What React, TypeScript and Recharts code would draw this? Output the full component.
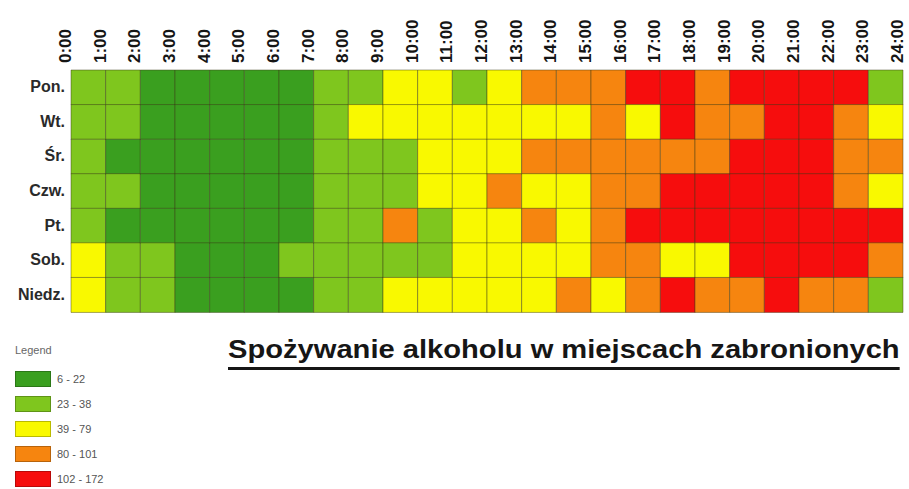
import { BarChart, Bar, Cell, XAxis, YAxis } from 'recharts'

const days = ['Pon.', 'Wt.', 'Śr.', 'Czw.', 'Pt.', 'Sob.', 'Niedz.']
const hourTicks = [0, 1, 2, 3, 4, 5, 6, 7, 8, 9, 10, 11, 12, 13, 14, 15, 16, 17, 18, 19, 20, 21, 22, 23, 24]

// estimated counts per hour (0:00 - 23:00)
const pon = [30, 28, 18, 14, 12, 11, 15, 26, 34, 52, 60, 36, 64, 85, 88, 92, 110, 118, 96, 125, 140, 132, 120, 35]
const wt = [32, 27, 19, 13, 11, 10, 16, 28, 45, 55, 62, 66, 70, 72, 75, 84, 78, 108, 95, 98, 130, 128, 90, 58]
const sr = [29, 22, 17, 12, 10, 11, 14, 27, 33, 37, 58, 63, 68, 82, 86, 90, 94, 96, 99, 115, 135, 126, 88, 84]
const czw = [31, 26, 18, 13, 11, 10, 15, 25, 32, 38, 56, 65, 83, 70, 74, 88, 93, 112, 120, 128, 138, 130, 92, 66]
const pt = [33, 21, 16, 12, 10, 9, 14, 29, 35, 81, 37, 60, 68, 86, 76, 92, 106, 122, 134, 142, 160, 172, 150, 118]
const sob = [45, 36, 30, 20, 15, 13, 24, 28, 31, 34, 37, 55, 62, 70, 75, 88, 94, 78, 76, 112, 140, 136, 118, 91]
const niedz = [48, 34, 27, 19, 14, 12, 17, 26, 36, 50, 58, 64, 70, 73, 85, 77, 90, 104, 94, 96, 108, 92, 86, 33]

const values = [pon, wt, sr, czw, pt, sob, niedz]

const classLabels = ['6 - 22', '23 - 38', '39 - 79', '80 - 101', '102 - 172']
const classMax = [22, 38, 79, 101, 172]
const classColors = ['#3a9f1f', '#7fc61e', '#f9f900', '#f6850f', '#f60d0d']

const hours = hourTicks.slice(0, 24)

function colorFor(v: number) {
  const i = classMax.findIndex((m) => v <= m)
  return classColors[i < 0 ? classColors.length - 1 : i]
}

// each cell is one hour wide, stacked along the row
const rows = days.map((day) => {
  const row: Record<string, string | number> = { day }
  hours.forEach((h) => {
    row[`h${h}`] = 1
  })
  return row
})

function HourTick(props: any) {
  const { x, y, payload } = props
  return (
    <text
      x={x}
      y={y}
      transform={`rotate(-90, ${x}, ${y})`}
      textAnchor="start"
      fontSize={17}
      fontWeight="bold"
      fill="#151515"
      fontFamily="'Liberation Sans', Arial, sans-serif"
    >
      {`${payload.value}:00`}
    </text>
  )
}

function DayTick(props: any) {
  const { y, payload } = props
  return (
    <text
      x={65}
      y={y}
      dy={5}
      textAnchor="end"
      fontSize={16}
      fontWeight="bold"
      fill="#2a2a2a"
      fontFamily="'Liberation Sans', Arial, sans-serif"
    >
      {payload.value}
    </text>
  )
}

export default function App() {
  return (
    <div
      style={{
        position: 'absolute',
        left: 0,
        top: 0,
        width: 909,
        height: 489,
        background: '#fff',
        fontFamily: "'Liberation Sans', Arial, sans-serif",
      }}
    >
      <BarChart
        width={909}
        height={489}
        data={rows}
        layout="vertical"
        barCategoryGap={0}
        margin={{ top: 0, right: 6, bottom: 177, left: 0 }}
      >
        <XAxis
          type="number"
          orientation="top"
          domain={[0, 24]}
          ticks={hourTicks}
          interval={0}
          height={70}
          axisLine={false}
          tickLine={false}
          tickSize={0}
          tickMargin={7}
          tick={<HourTick />}
        />
        <YAxis
          type="category"
          dataKey="day"
          width={71}
          axisLine={false}
          tickLine={false}
          tick={<DayTick />}
        />
        {hours.map((h) => (
          <Bar key={h} dataKey={`h${h}`} stackId="a" isAnimationActive={false}>
            {days.map((d, i) => (
              <Cell
                key={d}
                fill={colorFor(values[i][h])}
                stroke="rgba(60,60,25,0.45)"
                strokeWidth={1}
              />
            ))}
          </Bar>
        ))}
      </BarChart>

      <div
        style={{
          position: 'absolute',
          left: 228,
          top: 335,
          fontSize: 25,
          fontWeight: 'bold',
          color: '#161616',
          textDecoration: 'underline',
          textDecorationThickness: 3,
          textUnderlineOffset: 9,
          whiteSpace: 'nowrap',
          transform: 'scaleX(1.165)',
          transformOrigin: 'left top',
        }}
      >
        Spożywanie alkoholu w miejscach zabronionych
      </div>

      <div style={{ position: 'absolute', left: 15, top: 344, fontSize: 11, color: '#666' }}>Legend</div>
      {classLabels.map((label, i) => (
        <div
          key={label}
          style={{ position: 'absolute', left: 15, top: 371 + i * 25, display: 'flex', alignItems: 'center' }}
        >
          <div
            style={{
              width: 36,
              height: 16,
              background: classColors[i],
              border: '1px solid rgba(0,0,0,0.25)',
              boxSizing: 'border-box',
            }}
          />
          <span style={{ marginLeft: 6, fontSize: 11, color: '#555' }}>{label}</span>
        </div>
      ))}
    </div>
  )
}
